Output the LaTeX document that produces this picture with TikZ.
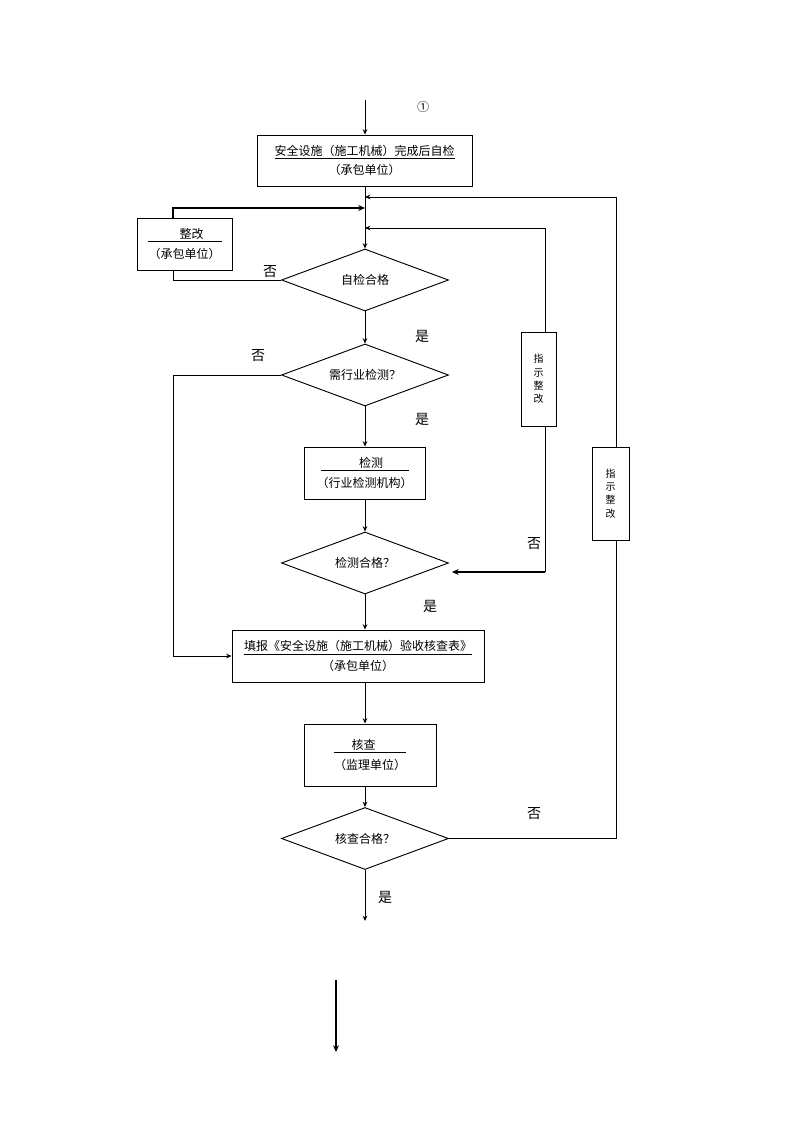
\documentclass[tikz,border=0pt]{standalone}
\usepackage{fontspec}
\setmainfont{Noto Sans CJK SC}
\usepackage{tikz}
\usetikzlibrary{arrows.meta}
\usetikzlibrary{shapes.geometric}
\tikzstyle{procbox}=[black, draw=black, line width=0.7pt, shape=rectangle, fill=white, align=center, inner sep=2pt, font=\fontsize{9}{14.5}\selectfont]
\tikzstyle{decnode}=[black, draw=black, line width=0.7pt, shape=diamond, aspect=2.7, inner sep=0pt, minimum width=125.25pt, minimum height=46.5pt, font=\fontsize{9}{11}\selectfont]
\tikzstyle{vertbox}=[black, draw=black, line width=0.7pt, shape=rectangle, fill=white, align=center, inner sep=0pt, font=\fontsize{7.5}{10}\selectfont]
\tikzstyle{yesno}=[black, inner sep=0pt, font=\fontsize{10.5}{12}\selectfont]
\tikzstyle{flow}=[-{Stealth[length=4pt, width=3.5pt]}, line width=0.7pt, color=black]
\tikzstyle{flowthick}=[-{Stealth[length=5pt, width=4.5pt]}, line width=1.6pt, color=black]
\tikzstyle{plain}=[line width=0.7pt, color=black]

\begin{document}
\begin{tikzpicture}[x=0.75pt, y=-0.75pt]
\useasboundingbox (0,0) rectangle (794,1123);

\node [procbox, minimum width=161.25pt, minimum height=38.25pt] (selfchk) at (364.5,160.5) {\underline{安全设施（施工机械）完成后自检}\\（承包单位）};
\node [procbox, minimum width=71.25pt, minimum height=39pt] (rectify) at (184.5,244) {\underline{\hspace{24pt}整改\hspace{13.5pt}}\\（承包单位）};
\node [decnode] (selfok) at (365,280) {自检合格};
\node [decnode] (needtest) at (365,375) {需行业检测？};
\node [procbox, minimum width=90.75pt, minimum height=39pt] (testing) at (364.5,473) {\underline{\hspace{29pt}检测\hspace{19pt}}\\（行业检测机构）};
\node [decnode] (testok) at (365,563) {检测合格？};
\node [procbox, minimum width=189pt, minimum height=39pt] (report) at (358,656) {\underline{填报《安全设施（施工机械）验收核查表》}\\（承包单位）};
\node [procbox, minimum width=99pt, minimum height=46.5pt] (review) at (370,755) {\underline{\hspace{13.5pt}核查\hspace{23pt}}\\（监理单位）};
\node [decnode] (reviewok) at (365,838.5) {核查合格？};
\node [vertbox, minimum width=26.25pt, minimum height=70.5pt] (redo1) at (538.5,379) {指\\示\\整\\改};
\node [vertbox, minimum width=27.75pt, minimum height=69.75pt] (redo2) at (610.5,493.5) {指\\示\\整\\改};

\node [black, inner sep=0pt, font=\fontsize{9}{11}\selectfont] (circone) at (423,107) {①};
\node [yesno] (no1) at (270,272) {否};
\node [yesno] (yes1) at (422,336) {是};
\node [yesno] (no2) at (258,356) {否};
\node [yesno] (yes2) at (422,419) {是};
\node [yesno] (no3) at (534,544) {否};
\node [yesno] (yes3) at (430,606) {是};
\node [yesno] (no4) at (534,814) {否};
\node [yesno] (yes4) at (385,897) {是};

\coordinate (start) at (365,100);
\coordinate (join1) at (365,197);
\coordinate (join2) at (365,208);
\coordinate (join3) at (365,228);
\coordinate (rectup) at (173,218);
\coordinate (rectdn) at (173,270);
\coordinate (bypass) at (173,375);
\coordinate (redo1top) at (545,332);
\coordinate (redo1bot) at (545,426);
\coordinate (redo1turn) at (545,572);
\coordinate (testin) at (452,572);
\coordinate (redo2top) at (616,447);
\coordinate (redo2bot) at (616,540);
\coordinate (finish) at (365,921);
\coordinate (tailtop) at (336,980);
\coordinate (tailend) at (336,1052);

\draw[flow] (start) -- (start |- selfchk.north);
\draw[flow] (start |- selfchk.south) -- (selfok.north);
\draw[flow] (selfok.south) -- (needtest.north);
\draw[flow] (needtest.south) -- (needtest.south |- testing.north);
\draw[flow] (needtest.south |- testing.south) -- (testok.north);
\draw[flow] (testok.south) -- (testok.south |- report.north);
\draw[flow] (testok.south |- report.south) -- (testok.south |- review.north);
\draw[flow] (testok.south |- review.south) -- (reviewok.north);
\draw[flow] (reviewok.south) -- (finish);

\draw[plain] (selfok.west) -| (rectdn);
\draw[flowthick] (rectup) |- (join2);
\draw[flow] (needtest.west) -- (bypass) |- (report.west);

\draw[plain] (redo1bot) -- (redo1turn);
\draw[flowthick] (redo1turn) -- (testin);
\draw[flow] (redo1top) |- (join3);

\draw[plain] (reviewok.east) -| (redo2bot);
\draw[flow] (redo2top) |- (join1);

\draw[-{Stealth[length=5pt, width=4.5pt]}, line width=2pt, color=black] (tailtop) -- (tailend);
\end{tikzpicture}
\end{document}
